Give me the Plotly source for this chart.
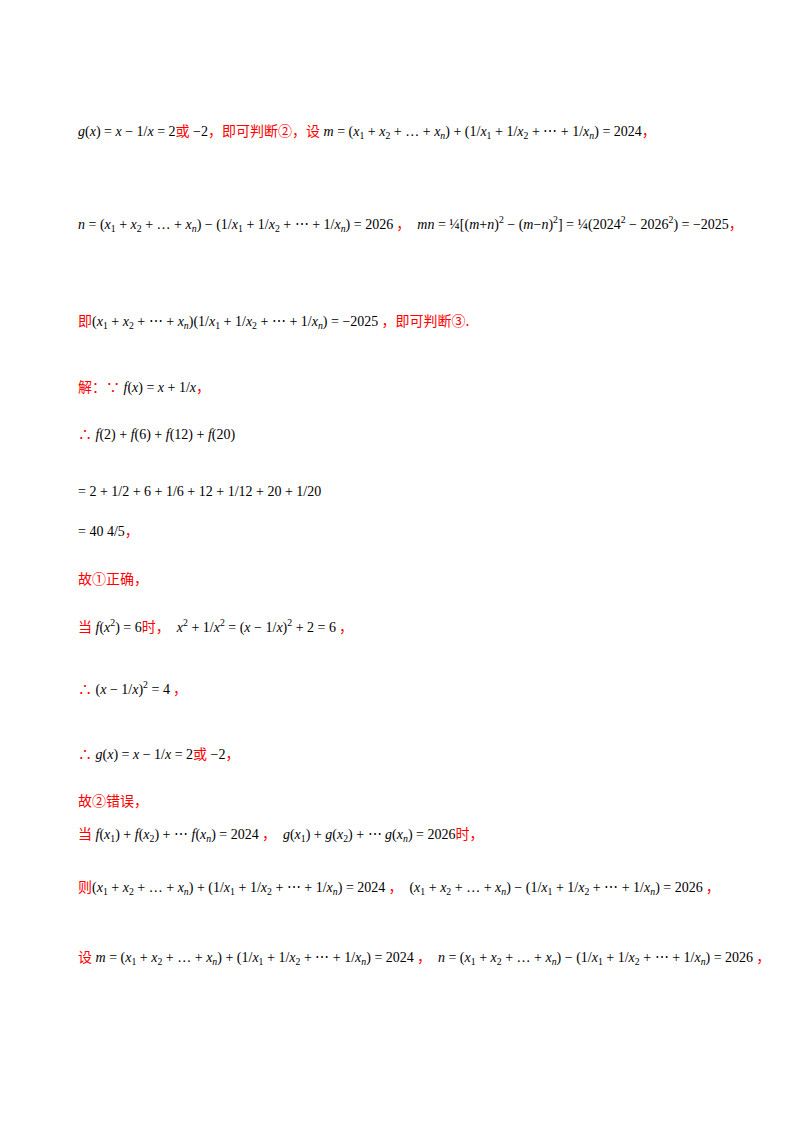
import plotly.graph_objects as go

R = "<span style='color:#ff0000;font-family:Noto Sans CJK SC'>{}</span>"
def r(t): return R.format(t)

S = "(<i>x</i><sub>1</sub> + <i>x</i><sub>2</sub> + … + <i>x<sub>n</sub></i>)"
F = "(1/<i>x</i><sub>1</sub> + 1/<i>x</i><sub>2</sub> + ⋯ + 1/<i>x<sub>n</sub></i>)"

lines = [
    "<i>g</i>(<i>x</i>) = <i>x</i> − 1/<i>x</i> = 2" + r("或") + " −2" + r("，即可判断②，设") + " <i>m</i> = " + S + " + " + F + " = 2024" + r("，"),
    "<i>n</i> = " + S + " − " + F + " = 2026" + r(" ，") + "  <i>mn</i> = ¼[(<i>m</i>+<i>n</i>)<sup>2</sup> − (<i>m</i>−<i>n</i>)<sup>2</sup>] = ¼(2024<sup>2</sup> − 2026<sup>2</sup>) = −2025" + r("，"),
    r("即") + S.replace("…", "⋯") + F + " = −2025" + r(" ，即可判断③."),
    r("解：∵") + " <i>f</i>(<i>x</i>) = <i>x</i> + 1/<i>x</i>" + r("，"),
    r("∴") + " <i>f</i>(2) + <i>f</i>(6) + <i>f</i>(12) + <i>f</i>(20)",
    "= 2 + 1/2 + 6 + 1/6 + 12 + 1/12 + 20 + 1/20",
    "= 40 4/5" + r("，"),
    r("故①正确，"),
    r("当") + " <i>f</i>(<i>x</i><sup>2</sup>) = 6" + r("时，") + "  <i>x</i><sup>2</sup> + 1/<i>x</i><sup>2</sup> = (<i>x</i> − 1/<i>x</i>)<sup>2</sup> + 2 = 6" + r(" ，"),
    r("∴") + " (<i>x</i> − 1/<i>x</i>)<sup>2</sup> = 4" + r(" ，"),
    r("∴") + " <i>g</i>(<i>x</i>) = <i>x</i> − 1/<i>x</i> = 2" + r("或") + " −2" + r("，"),
    r("故②错误，"),
    r("当") + " <i>f</i>(<i>x</i><sub>1</sub>) + <i>f</i>(<i>x</i><sub>2</sub>) + ⋯ <i>f</i>(<i>x<sub>n</sub></i>) = 2024" + r(" ，") + "  <i>g</i>(<i>x</i><sub>1</sub>) + <i>g</i>(<i>x</i><sub>2</sub>) + ⋯ <i>g</i>(<i>x<sub>n</sub></i>) = 2026" + r("时，"),
    r("则") + S + " + " + F + " = 2024" + r(" ，") + "  " + S + " − " + F + " = 2026" + r(" ，"),
    r("设") + " <i>m</i> = " + S + " + " + F + " = 2024" + r(" ，") + "  <i>n</i> = " + S + " − " + F + " = 2026" + r(" ，"),
]
ys = [122, 215, 312, 378, 425, 483, 522, 570, 618, 680, 745, 792, 825, 878, 948]

fig = go.Figure()
for t, y in zip(lines, ys):
    fig.add_annotation(x=68, y=y, xref="x", yref="y", text=t, showarrow=False,
                       xanchor="left", yanchor="middle", align="left",
                       font=dict(family="Liberation Serif", size=14, color="black"))
fig.update_xaxes(range=[0, 800], visible=False)
fig.update_yaxes(range=[1132, 0], visible=False)
fig.update_layout(width=800, height=1132, margin=dict(l=0, r=0, t=0, b=0),
                  paper_bgcolor="white", plot_bgcolor="white")
fig.write_html("out.html")
